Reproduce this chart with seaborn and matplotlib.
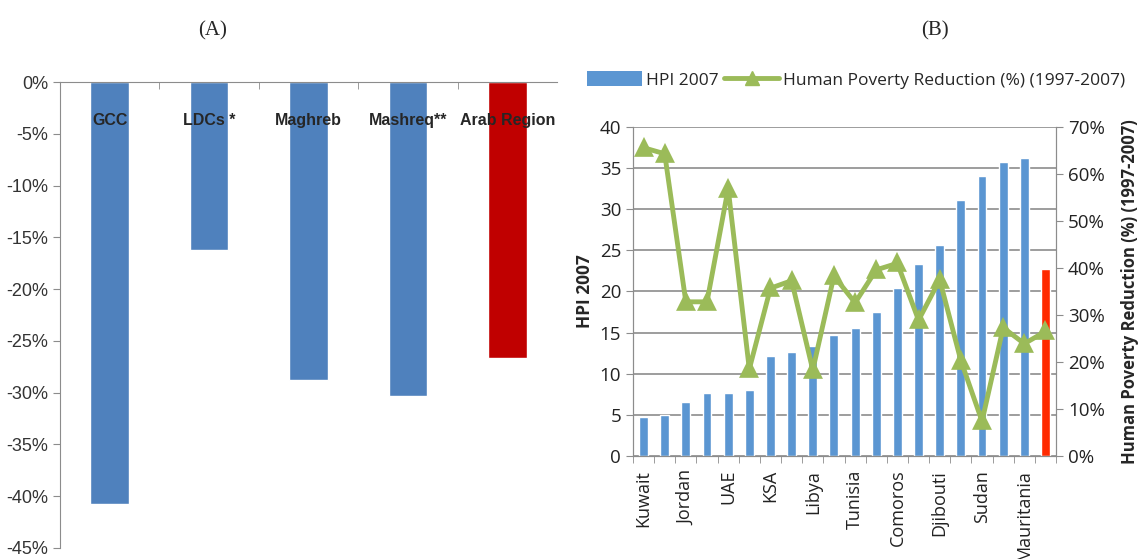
import matplotlib.pyplot as plt
import matplotlib.ticker as ticker
import numpy as np
import pandas as pd
import seaborn as sns
from matplotlib.lines import Line2D
from matplotlib.patches import Patch

sns.set_style("white")
plt.rcParams["font.family"] = ["Open Sans", "DejaVu Sans"]

# (A) change in human poverty by sub-region
regions = ["GCC", "LDCs *", "Maghreb", "Mashreq**", "Arab Region"]
region_change = [-40.8, -16.2, -28.8, -30.3, -26.7]
region_kind = ["sub", "sub", "sub", "sub", "all"]

# (B) HPI 2007 and poverty reduction 1997-2007 by country
countries = ["Kuwait", "Qatar", "Jordan", "Lebanon", "UAE", "Bahrain", "KSA", "Syria",
             "Libya", "Oman", "Tunisia", "Algeria", "Comoros", "Egypt", "Djibouti",
             "Morocco", "Sudan", "Yemen", "Mauritania", "Arab Region"]
shown_labels = ["Kuwait", "", "Jordan", "", "UAE", "", "KSA", "", "Libya", "",
                "Tunisia", "", "Comoros", "", "Djibouti", "", "Sudan", "", "Mauritania", ""]
hpi_2007 = [4.7, 5.0, 6.6, 7.6, 7.7, 8.0, 12.1, 12.6, 13.4, 14.7,
            15.6, 17.5, 20.4, 23.4, 25.6, 31.1, 34.0, 35.7, 36.2, 22.7]
poverty_reduction = [65.6, 64.3, 32.8, 32.8, 56.9, 18.5, 35.7, 37.3, 18.3, 38.3,
                     32.6, 39.6, 41.0, 28.9, 37.5, 20.3, 7.4, 27.3, 23.9, 26.5]
country_kind = ["country"] * 19 + ["all"]

df_a = pd.DataFrame({"region": regions, "change": region_change, "kind": region_kind})
df_b = pd.DataFrame({"country": countries, "hpi": hpi_2007,
                     "reduction": poverty_reduction, "kind": country_kind})

axis_grey = "#8c8c8c"
green = "#9bbb59"
narrow = ["Liberation Sans", "DejaVu Sans"]

fig = plt.figure(figsize=(11.38, 5.59), dpi=100)

# ---------------- panel A ----------------
ax1 = fig.add_axes([0.0527, 0.0197, 0.4368, 0.8336])
sns.barplot(data=df_a, x="region", y="change", hue="kind", dodge=False,
            palette={"sub": "#4f81bd", "all": "#c00000"}, width=0.39,
            legend=False, ax=ax1, saturation=1)
ax1.set_axisbelow(False)
ax1.set_ylim(-45, 0)
ax1.set_xlim(-0.5, len(regions) - 0.5)
ax1.set_yticks(np.arange(-45, 1, 5))
ax1.yaxis.set_major_formatter(ticker.FuncFormatter(lambda v, p: f"{v:.0f}%"))
ax1.set_xlabel("")
ax1.set_ylabel("")
ax1.xaxis.set_ticks_position("top")
ax1.set_xticks(range(len(regions)))
ax1.set_xticklabels(regions, fontsize=11.5, fontweight="bold", family=narrow)
ax1.tick_params(axis="x", which="major", length=0, pad=-33)
ax1.set_xticks(np.arange(0.5, len(regions) - 1, 1), minor=True)
ax1.tick_params(axis="x", which="minor", direction="in", length=5, color=axis_grey, top=True)
ax1.tick_params(axis="y", length=5, color=axis_grey, left=True, labelsize=13,
                labelcolor="#333333")
for lab in ax1.get_yticklabels():
    lab.set_family(narrow)
for side in ["bottom", "right"]:
    ax1.spines[side].set_visible(False)
for side in ["top", "left"]:
    ax1.spines[side].set_color(axis_grey)

fig.text(0.187, 0.945, "(A)", ha="center", va="center", fontsize=15,
         family=["Liberation Serif", "DejaVu Serif"])
fig.text(0.822, 0.945, "(B)", ha="center", va="center", fontsize=15,
         family=["Liberation Serif", "DejaVu Serif"])

# ---------------- panel B ----------------
ax2 = fig.add_axes([0.5562, 0.1843, 0.3718, 0.5885])
sns.barplot(data=df_b, x="country", y="hpi", hue="kind", dodge=False,
            palette={"country": "#5b96d2", "all": "#ff2a00"}, width=0.42,
            legend=False, ax=ax2, saturation=1, zorder=2)
ax2.set_ylim(0, 40)
ax2.set_xlim(-0.5, len(countries) - 0.5)
ax2.set_yticks(np.arange(0, 41, 5))
ax2.yaxis.grid(True, color=axis_grey, linewidth=1.2)
ax2.set_axisbelow(True)
ax2.set_xlabel("")
ax2.set_ylabel("HPI 2007", fontsize=12.5, fontweight="bold", labelpad=4)
ax2.tick_params(axis="y", length=5, color=axis_grey, left=True, labelsize=13.5,
                labelcolor="#222222")

ax3 = ax2.twinx()
sns.pointplot(data=df_b, x="country", y="reduction", color=green, markers="^",
              linestyles="-", markersize=10, linewidth=3.5, ax=ax3)
ax3.set_ylim(0, 70)
ax3.set_yticks(np.arange(0, 71, 10))
ax3.yaxis.set_major_formatter(ticker.FuncFormatter(lambda v, p: f"{v:.0f}%"))
ax3.set_ylabel("Human Poverty Reduction (%) (1997-2007)", fontsize=12,
               fontweight="bold", labelpad=12)
ax3.tick_params(axis="y", length=5, color=axis_grey, right=True, labelsize=13.5,
                labelcolor="#222222")

ax2.set_xticks(range(len(countries)))
ax2.set_xticklabels(shown_labels, rotation=90, fontsize=13, color="#222222")
ax2.tick_params(axis="x", which="major", length=0, pad=10)
ax2.set_xticks(np.arange(-0.5, len(countries), 1), minor=True)
ax2.tick_params(axis="x", which="minor", direction="out", length=5, color=axis_grey,
                bottom=True)
ax3.tick_params(axis="x", which="both", length=0)

for a in [ax2, ax3]:
    a.spines["top"].set_visible(False)
    for side in ["left", "right", "bottom"]:
        a.spines[side].set_color(axis_grey)

handles = [Patch(facecolor="#5b96d2", edgecolor="none"),
           Line2D([], [], color=green, linewidth=3.5, marker="^", markersize=10)]
fig.legend(handles, ["HPI 2007", "Human Poverty Reduction (%) (1997-2007)"],
           loc="center left", bbox_to_anchor=(0.502, 0.857), ncol=2, frameon=False,
           fontsize=12.5, handlelength=3.2, handleheight=0.9, columnspacing=0.3,
           handletextpad=0.2)

fig.savefig("out.png", dpi=100)
